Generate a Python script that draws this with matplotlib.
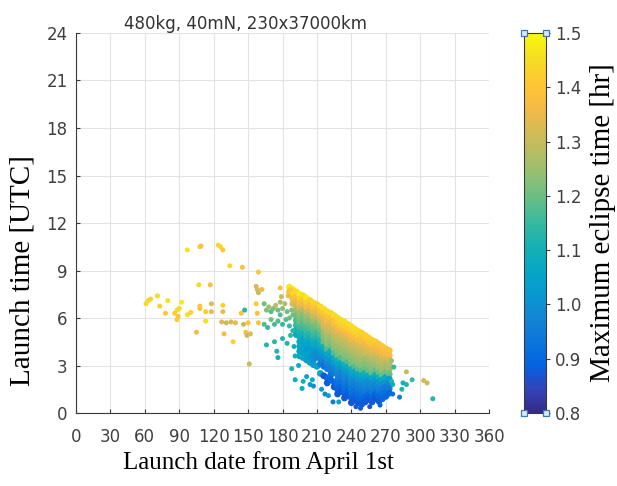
import matplotlib
matplotlib.use("Agg")
import matplotlib.pyplot as plt
from matplotlib.colors import LinearSegmentedColormap

# dense band: one column per launch day, codes read top -> bottom every 0.3 h
band_days = [186, 189, 192, 195, 198, 201, 204, 207, 210, 213,
             216, 219, 222, 225, 228, 231, 234, 237, 240, 243,
             246, 249, 252, 255, 258, 261, 264, 267, 270, 273]
band_top = [7.95, 7.8, 7.65, 7.5, 7.4, 7.25, 7.1, 6.95, 6.85, 6.7,
            6.55, 6.4, 6.3, 6.15, 6.0, 5.85, 5.75, 5.6, 5.45, 5.3,
            5.15, 5.05, 4.9, 4.75, 4.6, 4.5, 4.35, 4.2, 4.05, 3.95]
band_codes = ["By", "BAxv", "Aywusqpoml", "Bzxvsrqonmllkl", "Aywtrqpomlkkkl",
              "Bzxusrponlkjkk", "zxvtrqpnmkjkjk", "Aywusqpomljiij", "zxvtrqonlkih.k",
              "Aywusqpnmkjhg.l", "Aywvusrqmkigf.d", "Ayxvutsrpljhg.ed",
              "Aywvusrqmkihgfe", "Ayxvutsrplkhg.ed", "Azxwutsrqmkihgfed",
              "Azxvutsrpljhgfed", "Azxwutsrqmkihgfed", "Azxvutsrpljhgfed",
              "Azxwutsrqmkihgfed", "Azxvutsrpljhgfed", "Azxvutsrpljhgfed",
              "zyxvutsrpljhgfed", "zywvusrqmkihged", "zywvtsrqlihged",
              "zywvtsrqlihged", "zxwutsqmjhged", "yxwutsqmjhged",
              "yxwutsqligfe", "yxvtsqljgfe", "yxvtsqkhge"]
levels = "abcdefghijklmnopqrstuvwxyzAB"   # a = 0.800 hr, step 0.025 hr
row_step = 0.3

# scattered launches (day, time [UTC], eclipse [hr])
spread_day = [61, 63, 65, 71, 73, 78, 80, 86, 88, 89, 88, 90, 92, 97, 97, 100,
              105, 107, 108, 109, 108, 108, 113, 113, 117, 118, 118, 124, 126,
              128, 128, 128, 129, 127, 131, 135, 139, 134, 137, 145, 144, 147,
              146, 148, 150, 149, 152, 151, 159, 157, 158, 159, 157, 158, 159,
              162, 164, 166, 168, 170, 172, 174, 176, 178, 178, 180, 182, 184,
              185, 187, 179, 178, 164, 167, 170, 173, 176, 180, 183, 186, 188,
              189, 186, 189, 166, 173, 175, 176, 180, 184, 187, 190, 188, 191,
              191, 194, 197, 198, 201, 204, 206, 207, 214, 217, 220, 224, 229,
              248, 244, 256, 265, 275, 276, 277, 282, 284, 285, 288, 288, 293,
              303, 306, 311, 275, 276]
spread_time = [6.9, 7.1, 7.2, 7.4, 6.75, 6.3, 7.1, 6.3, 6.5, 6.1, 5.9, 6.6, 7.0,
               10.3, 6.2, 6.35, 5.1, 8.1, 10.5, 10.55, 6.6, 6.75, 6.4, 5.8, 8.1,
               6.9, 6.4, 10.6, 10.5, 10.3, 6.8, 6.4, 5.0, 5.75, 5.7, 5.75, 5.7,
               9.3, 4.5, 9.2, 6.3, 6.5, 5.6, 5.1, 5.7, 4.9, 5.0, 3.1, 8.9, 8.0,
               7.8, 7.6, 6.9, 6.3, 5.7,
               7.8, 6.9, 6.5, 6.7, 6.4, 6.6, 6.8, 6.5, 7.0, 6.2, 6.6, 6.9, 6.4,
               7.4, 7.8, 7.35, 7.9, 5.6, 5.4, 5.9, 5.6, 5.8, 5.6, 5.9, 6.0, 6.5,
               6.2, 5.5, 5.2, 4.3, 4.5, 3.9, 3.5, 4.7, 4.4, 4.9, 4.2, 2.8, 2.1,
               3.6, 3.0, 1.55, 2.0, 2.3, 1.8, 2.1, 1.7, 1.5, 1.2, 1.1, 0.7, 0.7,
               0.3, 0.4, 0.4, 0.5, 2.0, 1.8, 2.9, 1.0, 1.5, 1.9, 1.8, 2.6, 2.1,
               2.05, 1.9, 0.9, 3.3, 1.2]
spread_ecl = [1.45, 1.44, 1.43, 1.45, 1.43, 1.40, 1.46, 1.42, 1.45, 1.40, 1.42,
              1.44, 1.47, 1.46, 1.45, 1.43, 1.36, 1.44, 1.42, 1.40, 1.38, 1.40,
              1.42, 1.46, 1.38, 1.33, 1.36, 1.43, 1.44, 1.42, 1.43, 1.35, 1.37,
              1.33, 1.30, 1.32, 1.35, 1.44, 1.43, 1.39, 1.40, 1.13, 1.30, 1.38,
              1.40, 1.30, 1.33, 1.30, 1.40, 1.33, 1.32, 1.30, 1.42, 1.38, 1.40,
              1.36, 1.20, 1.22, 1.25, 1.18, 1.22, 1.28, 1.20, 1.26, 1.18, 1.23,
              1.27, 1.20, 1.35, 1.40, 1.30, 1.38, 1.17, 1.15, 1.20, 1.16, 1.18,
              1.15, 1.18, 1.20, 1.22, 1.20, 1.15, 1.13, 1.12, 1.14, 1.12, 1.10,
              1.13, 1.12, 1.14, 1.10, 1.12, 1.10, 1.10, 1.08, 1.08, 1.10, 1.05,
              1.02, 1.08, 1.00, 1.02, 0.98, 1.05, 0.95, 1.05, 0.88, 0.88, 0.87,
              0.89, 1.12, 1.08, 1.15, 0.95, 1.12, 1.10, 1.12, 1.30, 1.15, 1.32,
              1.30, 1.12, 1.25, 0.92]

x_ticks = list(range(0, 361, 30))
y_ticks = list(range(0, 25, 3))
cb_ticks = [0.8, 0.9, 1.0, 1.1, 1.2, 1.3, 1.4, 1.5]

# MATLAB parula, every 4th entry of the 64-colour table
parula = LinearSegmentedColormap.from_list("parula", [
    (0.2081, 0.1663, 0.5292), (0.1959, 0.2645, 0.7279), (0.0117, 0.3875, 0.8820),
    (0.0498, 0.4586, 0.8641), (0.0793, 0.5200, 0.8312), (0.0343, 0.5966, 0.8199),
    (0.0228, 0.6535, 0.7768), (0.0843, 0.6928, 0.7062), (0.2178, 0.7250, 0.6193),
    (0.3953, 0.7459, 0.5244), (0.5709, 0.7485, 0.4494), (0.7184, 0.7411, 0.3905),
    (0.8507, 0.7299, 0.3360), (0.9739, 0.7314, 0.2666), (0.9955, 0.7861, 0.1967),
    (0.9626, 0.8705, 0.1309), (0.9763, 0.9831, 0.0538)])

bx, by, bc = [], [], []
for day, top, codes in zip(band_days, band_top, band_codes):
    for i, ch in enumerate(codes):
        if ch == ".":
            continue
        bx.append(day)
        by.append(top - row_step * i)
        bc.append(0.8 + 0.025 * levels.index(ch))

fig = plt.figure(figsize=(6.17, 4.86), dpi=100)
ax = fig.add_axes([0.1232, 0.1502, 0.6694, 0.7819])
cax = fig.add_axes([0.8493, 0.1502, 0.0357, 0.7819])

sc = ax.scatter(bx, by, c=bc, s=24, cmap=parula, vmin=0.8, vmax=1.5,
                linewidths=0, zorder=3)
ax.scatter(spread_day, spread_time, c=spread_ecl, s=13, cmap=parula,
           vmin=0.8, vmax=1.5, linewidths=0, zorder=3)

ax.set_xlim(0, 360)
ax.set_ylim(0, 24)
ax.set_xticks(x_ticks)
ax.set_yticks(y_ticks)
ax.grid(True, color="#e3e3e3", linewidth=0.8, zorder=0)
ax.set_axisbelow(True)
for side in ["top", "right"]:
    ax.spines[side].set_visible(False)
for side in ["left", "bottom"]:
    ax.spines[side].set_color("#3a3a3a")
ax.tick_params(direction="in", length=3, colors="#3a3a3a", labelsize=12,
               labelcolor="#404040")
ax.tick_params(axis="x", pad=11)
ax.tick_params(axis="y", pad=6)

ax.set_title("480kg, 40mN, 230x37000km", fontsize=12, color="#333333",
             pad=3, x=0.41)
ax.set_xlabel("Launch date from April 1st", family="Liberation Serif",
              fontsize=18)
ax.xaxis.set_label_coords(0.442, -0.10)
ax.set_ylabel("Launch time [UTC]", family="Liberation Serif", fontsize=21)
ax.yaxis.set_label_coords(-0.097, 0.376)

cb = fig.colorbar(sc, cax=cax, ticks=cb_ticks)
cb.ax.set_yticklabels(["%.1f" % t for t in cb_ticks])
cb.outline.set_edgecolor("#3a3a3a")
cb.ax.tick_params(direction="out", length=3, colors="#3a3a3a", labelsize=12,
                  labelcolor="#404040")
cb.set_label("Maximum eclipse time [hr]", family="Liberation Serif",
             fontsize=21)
cb.ax.yaxis.set_label_coords(3.0, 0.5)
cax.plot([0, 1, 0, 1], [0.8, 0.8, 1.5, 1.5], "s", ms=4.5, mfc="#dce9f6",
         mec="#3c78b4", mew=0.9, clip_on=False, zorder=5)
cax.set_xlim(0, 1)

fig.savefig("out.png", dpi=100)
